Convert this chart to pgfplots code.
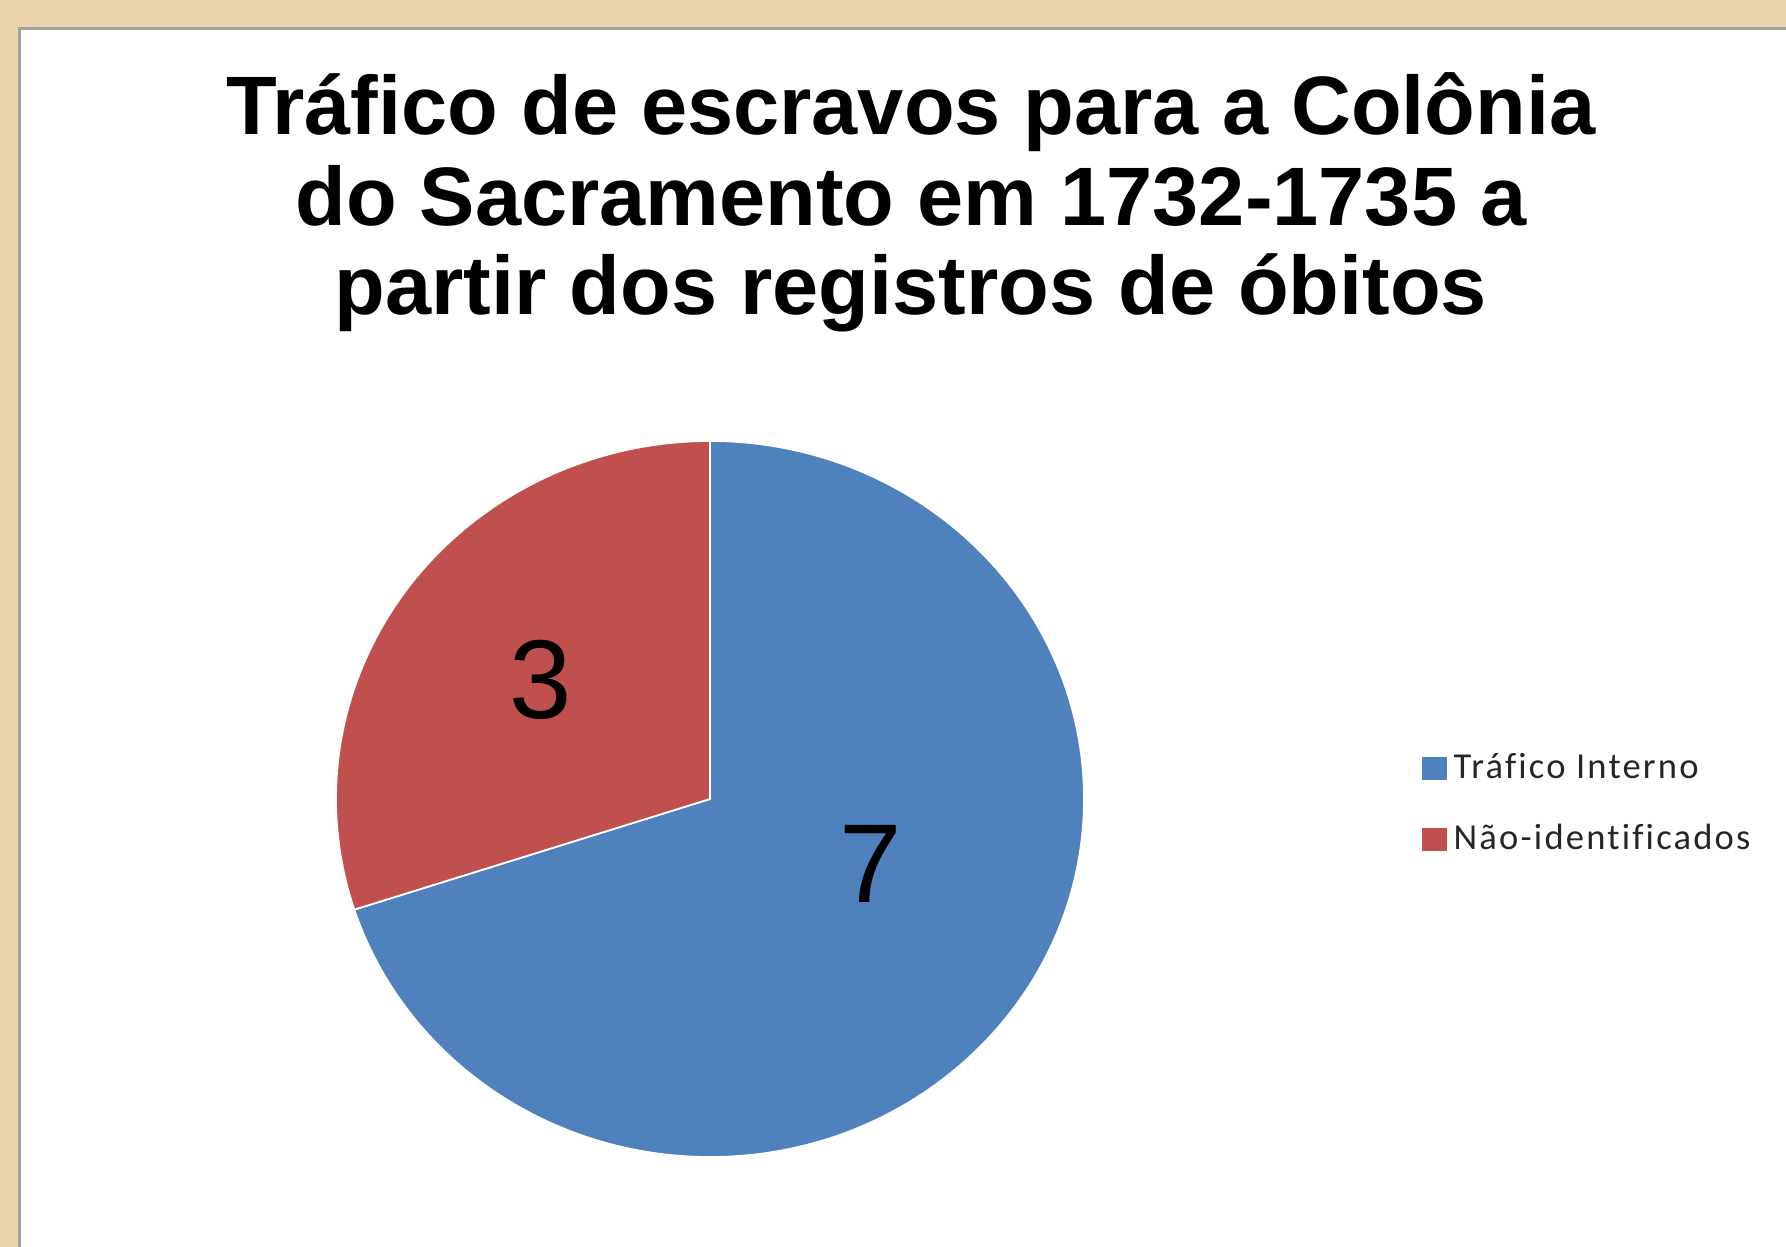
\documentclass[border=0pt]{standalone}
\usepackage{pgfplots}
\pgfplotsset{compat=1.18}
\usepackage{fontspec}
\setmainfont{Liberation Sans}
\newfontfamily\legfont[LetterSpace=6, Ligatures=NoCommon]{Carlito}

\definecolor{pieblue}{HTML}{4F81BD}
\definecolor{piered}{HTML}{C0504D}
\definecolor{parch}{HTML}{EBD3AD}
\definecolor{boxedge}{HTML}{A0A0A0}

% slice values
\def\valInterno{7}
\def\valNaoId{3}

\begin{document}
\begin{tikzpicture}
\pgfmathsetmacro{\total}{\valInterno+\valNaoId}
\pgfmathsetmacro{\angEnd}{90-360*\valInterno/\total}
\pgfmathsetmacro{\angRed}{360+\angEnd}
\begin{axis}[
    scale only axis,
    width=178.6mm, height=124.7mm,
    xmin=0, xmax=1786, ymin=0, ymax=1247,
    y dir=reverse,
    hide axis,
    legend style={draw=none, fill=none,
        at={(axis cs:1411,804)}, anchor=west,
        font=\legfont\fontsize{10.4}{12}\selectfont,
        text=black!85,
        row sep=7.5pt},
    legend cell align=left,
    legend image code/.code={\fill[#1] (0mm,-1.1mm) rectangle (2.3mm,1.1mm);},
]
% background and chart box
\fill[parch] (axis cs:0,0) rectangle (axis cs:1786,1247);
\fill[boxedge] (axis cs:18,27) rectangle (axis cs:1786,1247);
\fill[white] (axis cs:21,30) rectangle (axis cs:1786,1247);

% title
\node[anchor=base, font=\bfseries\fontsize{23.6}{28}\selectfont] at (axis cs:911,134) {Tráfico de escravos para a Colônia};
\node[anchor=base, font=\bfseries\fontsize{23.6}{28}\selectfont] at (axis cs:911,225) {do Sacramento em 1732-1735 a};
\node[anchor=base, font=\bfseries\fontsize{23.6}{28}\selectfont] at (axis cs:911,314) {partir dos registros de óbitos};

% pie slices
\fill[pieblue, draw=white, line width=0.5pt] (axis cs:710,799) -- ++(0,35.8mm)
    arc[start angle=90, end angle=\angEnd, x radius=37.4mm, y radius=35.8mm] -- cycle;
\fill[piered, draw=white, line width=0.5pt] (axis cs:710,799) -- ++(0,35.8mm)
    arc[start angle=90, end angle=\angRed, x radius=37.4mm, y radius=35.8mm] -- cycle;

% slice labels
\node[font=\fontsize{31.9}{36}\selectfont] at (axis cs:541,680) {\valNaoId};
\node[font=\fontsize{31.9}{36}\selectfont] at (axis cs:871,864) {\valInterno};

\addlegendimage{pieblue}
\addlegendentry{Tráfico Interno}
\addlegendimage{piered}
\addlegendentry{Não-identificados}
\end{axis}
\end{tikzpicture}
\end{document}
